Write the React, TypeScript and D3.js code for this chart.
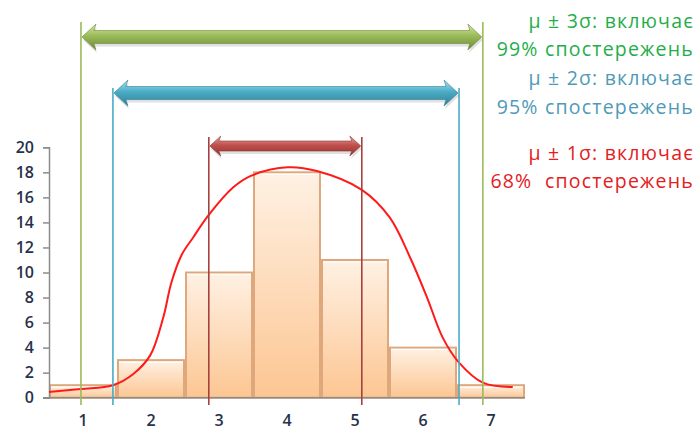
import React, { useEffect, useRef } from 'react';
import * as d3 from 'd3';

// histogram bins (category labels and counts)
const categories = ['1', '2', '3', '4', '5', '6', '7'];
const counts = [1, 3, 10, 18, 11, 4, 1];

// smoothed curve (x in category units, y in counts)
const curveX = [0.5, 0.97, 1.44, 1.74, 1.99, 2.18, 2.3, 2.45, 2.62, 2.85, 3.21, 3.46, 4.01, 4.44, 5.1, 5.51, 5.81, 6.06, 6.29, 6.53, 6.88, 7.32];
const curveY = [0.46, 0.7, 1.0, 1.9, 3.4, 6.4, 9.2, 11.4, 12.8, 14.6, 16.8, 17.7, 18.4, 18.1, 16.6, 14.4, 11.2, 8.0, 4.8, 2.8, 1.2, 0.85];

// sigma ranges (from / to in category units)
const rangeNames = ['3σ', '2σ', '1σ'];
const rangeFrom = [0.97, 1.44, 2.85];
const rangeTo = [6.88, 6.53, 5.1];
const rangeText = [
  ['μ ± 3σ: включає', '99% спостережень'],
  ['μ ± 2σ: включає', '95% спостережень'],
  ['μ ± 1σ: включає', '68%  спостережень'],
];

const yTicks = [0, 2, 4, 6, 8, 10, 12, 14, 16, 18, 20];

const App: React.FC = () => {
  const ref = useRef<SVGSVGElement>(null);

  useEffect(() => {
    const svg = d3.select(ref.current);
    svg.selectAll('*').remove();

    const left = 49;
    const right = 525;
    const top = 147.3;
    const bottom = 397.7;

    const x = d3.scaleBand().domain(categories).range([left, right]).paddingInner(0);
    const xv = d3.scaleLinear().domain([0.5, 7.5]).range([left, right]);
    const y = d3.scaleLinear().domain([0, 20]).range([bottom, top]);

    const defs = svg.append('defs');
    const barGrad = defs.append('linearGradient').attr('id', 'barGrad').attr('x1', 0).attr('y1', 0).attr('x2', 0).attr('y2', 1);
    barGrad.append('stop').attr('offset', '0%').attr('stop-color', '#fff1e4');
    barGrad.append('stop').attr('offset', '100%').attr('stop-color', '#fcc692');

    const palettes = [
      ['#d4e6a8', '#9bbb59', '#6f8a3a'],
      ['#a8e2f0', '#4bacc6', '#2f7f95'],
      ['#eaa6a4', '#c0504d', '#8e3432'],
    ];
    const lineColors = ['#9bbb59', '#4bacc6', '#a8403d'];
    const textColors = ['#1fae4a', '#4f9ab6', '#e3201e'];

    palettes.forEach((p, i) => {
      const g = defs.append('linearGradient').attr('id', `arr${i}`).attr('x1', 0).attr('y1', 0).attr('x2', 0).attr('y2', 1);
      g.append('stop').attr('offset', '0%').attr('stop-color', p[0]);
      g.append('stop').attr('offset', '45%').attr('stop-color', p[1]);
      g.append('stop').attr('offset', '100%').attr('stop-color', p[2]);
    });

    // bars
    svg.append('g')
      .selectAll('rect')
      .data(counts)
      .join('rect')
      .attr('x', (d, i) => x(categories[i])! + 1)
      .attr('y', (d) => y(d))
      .attr('width', x.bandwidth() - 2)
      .attr('height', (d) => bottom - y(d))
      .attr('fill', 'url(#barGrad)')
      .attr('stroke', '#dfa77c')
      .attr('stroke-width', 2);

    svg.append('g')
      .selectAll('line')
      .data(counts)
      .join('line')
      .attr('x1', (d, i) => x(categories[i])! + 2)
      .attr('x2', (d, i) => x(categories[i])! + x.bandwidth() - 2)
      .attr('y1', (d) => y(d) + 2)
      .attr('y2', (d) => y(d) + 2)
      .attr('stroke', '#ffffff')
      .attr('stroke-opacity', 0.8)
      .attr('stroke-width', 1.5);

    // axes
    const yAxis = svg.append('g').attr('transform', `translate(${left},0)`)
      .call(d3.axisLeft(y).tickValues(yTicks).tickSize(6).tickPadding(9));
    yAxis.select('.domain').attr('stroke', '#8c8c8c').attr('stroke-width', 1.5);
    yAxis.selectAll('.tick line').attr('stroke', '#8c8c8c').attr('stroke-width', 1.5);
    yAxis.selectAll('.tick text')
      .attr('font-family', '"Open Sans", sans-serif')
      .attr('font-size', 16)
      .attr('font-weight', 600)
      .attr('fill', '#27314a');

    svg.append('line')
      .attr('x1', left - 6).attr('x2', right)
      .attr('y1', bottom).attr('y2', bottom)
      .attr('stroke', '#8c8c8c').attr('stroke-width', 1.5);

    svg.append('g')
      .selectAll('text')
      .data(categories)
      .join('text')
      .attr('x', (d) => x(d)! + x.bandwidth() / 2)
      .attr('y', 426)
      .attr('text-anchor', 'middle')
      .attr('font-family', '"Open Sans", sans-serif')
      .attr('font-size', 16)
      .attr('font-weight', 600)
      .attr('fill', '#27314a')
      .text((d) => d);

    // curve
    const pts = curveX.map((v, i) => [v, curveY[i]] as [number, number]);
    svg.append('path')
      .datum(pts)
      .attr('fill', 'none')
      .attr('stroke', '#ff1a1a')
      .attr('stroke-width', 2)
      .attr('d', d3.line<[number, number]>()
        .curve(d3.curveCatmullRom.alpha(0.5))
        .x((d) => xv(d[0]))
        .y((d) => y(d[1])));

    // sigma ranges
    const arrowY = [37, 93, 146];
    const lineTop = [22, 88, 137];
    const bodyH = [13, 13, 10];
    const headH = [26, 26, 20];
    const headL = [14, 14, 11];

    rangeNames.forEach((name, i) => {
      const x0 = xv(rangeFrom[i]);
      const x1 = xv(rangeTo[i]);
      const g = svg.append('g');
      [x0, x1].forEach((xx) => {
        g.append('line')
          .attr('x1', xx).attr('x2', xx)
          .attr('y1', lineTop[i]).attr('y2', 405)
          .attr('stroke', lineColors[i])
          .attr('stroke-width', 1.6);
      });
      const cy = arrowY[i];
      const b = bodyH[i] / 2;
      const h = headH[i] / 2;
      const hl = headL[i];
      const a0 = x0 + 1;
      const a1 = x1 - 1;
      const path = `M${a0},${cy} L${a0 + hl},${cy - h} L${a0 + hl - 2},${cy - b} L${a1 - hl + 2},${cy - b} L${a1 - hl},${cy - h} L${a1},${cy} L${a1 - hl},${cy + h} L${a1 - hl + 2},${cy + b} L${a0 + hl - 2},${cy + b} L${a0 + hl},${cy + h} Z`;
      g.append('path')
        .attr('d', path)
        .attr('transform', 'translate(1,3)')
        .attr('fill', '#000')
        .attr('fill-opacity', 0.12);
      g.append('path')
        .attr('d', path)
        .attr('fill', `url(#arr${i})`)
        .attr('stroke', palettes[i][2])
        .attr('stroke-width', 0.6);
    });

    // labels on the right
    const textBase = [[28, 56], [85, 114], [160, 188]];
    rangeText.forEach((lines, i) => {
      lines.forEach((t, j) => {
        svg.append('text')
          .attr('x', 694)
          .attr('y', textBase[i][j])
          .attr('text-anchor', 'end')
          .attr('font-family', '"Open Sans", sans-serif')
          .attr('font-size', 19.5)
          .attr('letter-spacing', 1.2)
          .attr('fill', textColors[i])
          .attr('xml:space', 'preserve')
          .style('white-space', 'pre')
          .text(t);
      });
    });
  }, []);

  return (
    <svg
      ref={ref}
      width={700}
      height={432}
      style={{ position: 'absolute', left: 0, top: 0, background: '#fff' }}
    ></svg>
  );
};

export default App;
